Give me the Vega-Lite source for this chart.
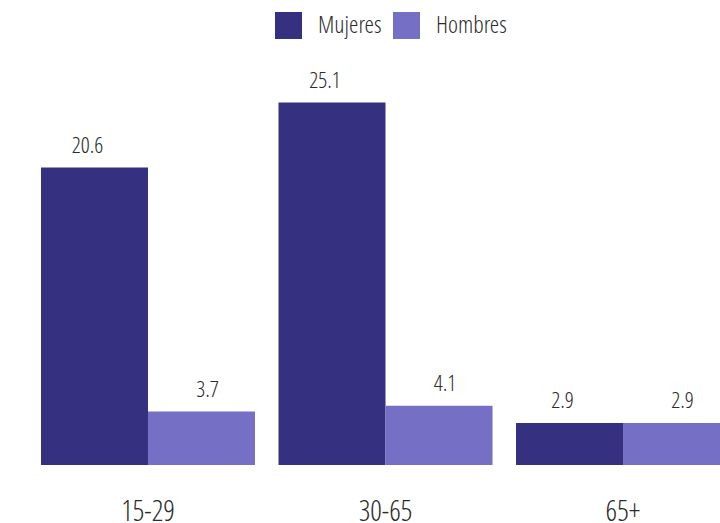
{
  "$schema": "https://vega.github.io/schema/vega-lite/v6.json",
  "width": 720,
  "height": 465,
  "autosize": {"type": "none"},
  "padding": {"left": 0, "top": 0, "right": 0, "bottom": 58},
  "background": "white",
  "config": {
    "view": {"stroke": null},
    "font": "Open Sans Condensed Light, Open Sans Condensed, sans-serif",
    "text": {"fontWeight": "normal"},
    "axis": {"labelFontWeight": "normal"},
    "legend": {"labelFontWeight": "normal"}
  },
  "data": {
    "values": [
      {"edad": "15-29", "sexo": "Mujeres", "valor": 20.6},
      {"edad": "15-29", "sexo": "Hombres", "valor": 3.7},
      {"edad": "30-65", "sexo": "Mujeres", "valor": 25.1},
      {"edad": "30-65", "sexo": "Hombres", "valor": 4.1},
      {"edad": "65+", "sexo": "Mujeres", "valor": 2.9},
      {"edad": "65+", "sexo": "Hombres", "valor": 2.9}
    ]
  },
  "encoding": {
    "x": {
      "field": "edad",
      "type": "nominal",
      "sort": ["15-29", "30-65", "65+"],
      "scale": {"range": [0, 771], "paddingInner": 0.099, "paddingOuter": 0.1726},
      "axis": {
        "title": null,
        "domain": false,
        "ticks": false,
        "tickSize": 0,
        "labelAngle": 0,
        "labelFontSize": 29,
        "labelColor": "#2b2b2b",
        "labelBaseline": "alphabetic",
        "labelPadding": 55
      }
    },
    "xOffset": {
      "field": "sexo",
      "type": "nominal",
      "sort": ["Mujeres", "Hombres"],
      "scale": {"paddingInner": 0, "paddingOuter": 0}
    },
    "y": {
      "field": "valor",
      "type": "quantitative",
      "scale": {"domain": [0, 32.2], "nice": false},
      "axis": null
    }
  },
  "layer": [
    {
      "mark": {"type": "bar"},
      "encoding": {
        "color": {
          "field": "sexo",
          "type": "nominal",
          "sort": ["Mujeres", "Hombres"],
          "scale": {"domain": ["Mujeres", "Hombres"], "range": ["#35307f", "#766fc6"]},
          "legend": {
            "title": null,
            "orient": "none",
            "direction": "horizontal",
            "legendX": 275,
            "legendY": 12,
            "padding": 0,
            "symbolType": "square",
            "symbolSize": 729,
            "symbolStrokeWidth": 0,
            "symbolOpacity": 1,
            "labelFontSize": 24,
            "labelColor": "#2b2b2b",
            "labelOffset": 16,
            "columnPadding": 11
          }
        }
      }
    },
    {
      "transform": [{"filter": "datum.sexo === 'Mujeres'"}],
      "mark": {"type": "text", "baseline": "alphabetic", "dy": -15, "dx": -7, "fontSize": 22.5, "color": "#2b2b2b"},
      "encoding": {"text": {"field": "valor", "type": "quantitative", "format": ".1f"}}
    },
    {
      "transform": [{"filter": "datum.sexo === 'Hombres'"}],
      "mark": {"type": "text", "baseline": "alphabetic", "dy": -15, "dx": 6, "fontSize": 22.5, "color": "#2b2b2b"},
      "encoding": {"text": {"field": "valor", "type": "quantitative", "format": ".1f"}}
    }
  ]
}
